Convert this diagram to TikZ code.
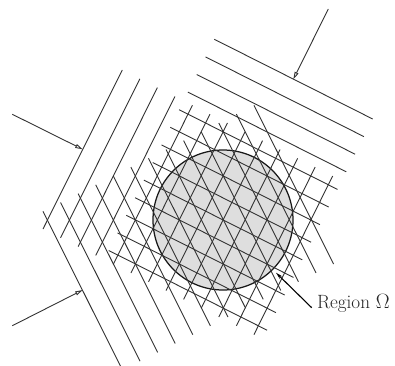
\documentclass[tikz,border=0pt]{standalone}
\usetikzlibrary{arrows.meta}
\tikzset{
  px/.style={x=1pt,y=-1pt},
  gridline/.style={line width=0.9pt,draw=black!80},
  region/.style={line width=1.25pt,draw=black!90,fill=black!13},
  openarrow/.style={line width=0.9pt,draw=black!80,-{Triangle[open,length=7.5pt,width=4pt,fill=white]}},
  leader/.style={line width=1.1pt,draw=black,-{Stealth[length=7pt,width=3.5pt]}},
  lab/.style={inner sep=0pt,anchor=base west,font=\fontsize{19.2}{22}\selectfont,text=black!85}
}
\begin{document}
\begin{tikzpicture}[px]
\useasboundingbox (0,0) rectangle (395,365);
\clip (0,0) rectangle (395,365);
\coordinate (cc) at (223,220);
\path[region] (cc) circle[radius=70];
% set A: parallel lines falling to the right
\foreach \i in {0,...,12}{
  \coordinate (a1) at ({214.3-8.8*\i},{39.3+17.6*\i});
  \coordinate (a2) at ({372.7-8.8*\i},{119+17.6*\i});
  \draw[gridline] (a1) -- (a2);
}
% set B: lines rising to the right
\foreach \i in {0,...,12}{
  \coordinate (b1) at ({122.3+17.53*\i},{70+8.83*\i});
  \coordinate (b2) at ({43+17.58*\i},{229+8.8*\i});
  \draw[gridline] (b1) -- (b2);
}
% set C: steep lines falling to the right
\foreach \i in {0,...,12}{
  \coordinate (c1) at ({43+17.58*\i},{211.3-8.83*\i});
  \coordinate (c2) at ({122.4+17.6*\i},{370-8.83*\i});
  \draw[gridline] (c1) -- (c2);
}
\coordinate (p1) at (328.3,9);
\coordinate (q1) at (293.3,79.3);
\coordinate (p2) at (12.3,114.3);
\coordinate (q2) at (82.7,149.3);
\coordinate (p3) at (12.3,325.7);
\coordinate (q3) at (82.7,290);
\draw[openarrow] (p1) -- (q1);
\draw[openarrow] (p2) -- (q2);
\draw[openarrow] (p3) -- (q3);
\node[lab] (rg) at (316.8,308.6) {Region $\Omega$};
\coordinate (q4) at (276,272.7);
\coordinate (p4) at (311.7,307.7);
\draw[leader] (p4) -- (q4);
\end{tikzpicture}
\end{document}
